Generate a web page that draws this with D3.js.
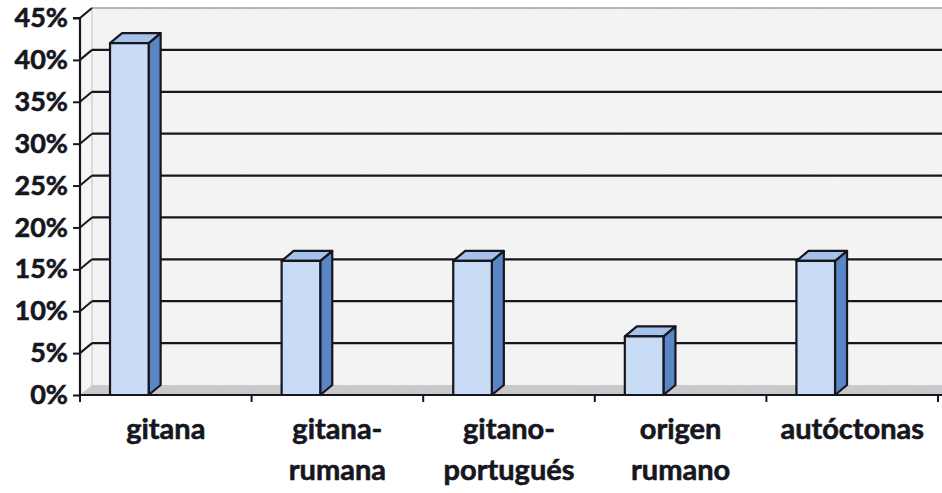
<!DOCTYPE html>
<html><head><meta charset="utf-8">
<script src="https://cdn.jsdelivr.net/npm/d3@7"></script>
<style>body{margin:0;background:#fff}svg{display:block}</style>
</head><body>
<svg id="c" width="942" height="493"></svg>
<script>
const categories = [["gitana"], ["gitana-", "rumana"], ["gitano-", "portugués"], ["origen", "rumano"], ["autóctonas"]];
const values = [42, 16, 16, 7, 16];
const yTicks = [0, 5, 10, 15, 20, 25, 30, 35, 40, 45];

(function () {
const W = 942, H = 493;
const mLeft = 80, mRight = 938, mTop = 18, mBottom = 395;
const dx = 12, dy = -10;
const svg = d3.select("#c");
const font = "Lato, 'Open Sans', sans-serif";
const ink = "#16161e";

const y = d3.scaleLinear().domain([0, 45]).range([mBottom, mTop]);
const x = d3.scaleBand().domain(d3.range(categories.length)).range([mLeft, mRight]).paddingInner(0).paddingOuter(0);

const defs = svg.append("defs");
const pat = defs.append("filter").attr("id", "noise");
pat.append("feTurbulence").attr("type", "fractalNoise").attr("baseFrequency", 0.9).attr("numOctaves", 1).attr("seed", 3);
pat.append("feColorMatrix").attr("values", "0 0 0 0 0.6  0 0 0 0 0.6  0 0 0 0 0.6  0 0 0 0.09 0");
pat.append("feComposite").attr("in2", "SourceGraphic").attr("operator", "in");

// back wall
const wallPts = [[mLeft + dx, y(45) + dy], [W, y(45) + dy], [W, mBottom + dy], [mLeft + dx, mBottom + dy]];
svg.append("polygon").attr("points", wallPts.join(" ")).attr("fill", "#f5f5f6");
svg.append("polygon").attr("points", wallPts.join(" ")).attr("fill", "#fff").attr("filter", "url(#noise)");
// side wall
const sidePts = [[mLeft, y(45)], [mLeft + dx, y(45) + dy], [mLeft + dx, mBottom + dy], [mLeft, mBottom]];
svg.append("polygon").attr("points", sidePts.join(" ")).attr("fill", "#f7f7f8");
svg.append("polygon").attr("points", sidePts.join(" ")).attr("fill", "#fff").attr("filter", "url(#noise)");
// top edge of walls
svg.append("polyline").attr("points", [[mLeft, y(45)], [mLeft + dx, y(45) + dy], [W, y(45) + dy]].join(" "))
  .attr("fill", "none").attr("stroke", "#a0a0a0").attr("stroke-width", 1.5);
svg.append("line").attr("x1", mLeft + dx).attr("x2", mLeft + dx).attr("y1", y(45) + dy).attr("y2", mBottom + dy)
  .attr("stroke", "#c0c0c0").attr("stroke-width", 1);
// floor
svg.append("polygon").attr("points", [[mLeft, mBottom], [mLeft + dx, mBottom + dy], [W, mBottom + dy], [W, mBottom]].join(" "))
  .attr("fill", "#c9c9cb");

// gridlines
const gl = svg.append("g");
yTicks.filter(t => t > 0 && t < 45).forEach(t => {
  gl.append("line").attr("x1", mLeft + dx).attr("x2", W).attr("y1", y(t) + dy).attr("y2", y(t) + dy)
    .attr("stroke", ink).attr("stroke-width", 2.2);
});
yTicks.filter(t => t > 0).forEach(t => {
  gl.append("line").attr("x1", mLeft).attr("x2", mLeft + dx).attr("y1", y(t)).attr("y2", y(t) + dy)
    .attr("stroke", ink).attr("stroke-width", 2);
});

// bars
const barOff = 0.175, barW = 0.225;
const bars = svg.append("g");
values.forEach((v, i) => {
  const x0 = x(i) + x.bandwidth() * barOff, x1 = x0 + x.bandwidth() * barW;
  const yt = y(v), yb = y(0);
  const g = bars.append("g").attr("stroke", ink).attr("stroke-width", 2.2).attr("stroke-linejoin", "round");
  g.append("polygon").attr("points", [[x1, yt], [x1 + dx, yt + dy], [x1 + dx, yb + dy], [x1, yb]].join(" ")).attr("fill", "#5a86c6");
  g.append("polygon").attr("points", [[x0, yt], [x0 + dx, yt + dy], [x1 + dx, yt + dy], [x1, yt]].join(" ")).attr("fill", "#a7c2ea");
  g.append("rect").attr("x", x0).attr("y", yt).attr("width", x1 - x0).attr("height", yb - yt).attr("fill", "#c9dcf5");
});

// y axis
const ya = svg.append("g").attr("transform", `translate(${mLeft},0)`)
  .call(d3.axisLeft(y).tickValues(yTicks).tickFormat(d => d + "%").tickSize(7).tickPadding(5));
ya.select(".domain").attr("stroke", ink).attr("stroke-width", 2.2).attr("d", `M-7,${y(45)}H0V${mBottom}`);
ya.selectAll(".tick line").attr("stroke", ink).attr("stroke-width", 2);
ya.selectAll(".tick text").attr("font-family", font).attr("font-weight", 700).attr("font-size", 27)
  .attr("fill", ink).attr("stroke", ink).attr("stroke-width", 0.6);

// x axis
svg.append("line").attr("x1", mLeft).attr("x2", W).attr("y1", mBottom).attr("y2", mBottom).attr("stroke", ink).attr("stroke-width", 2.2);
const bounds = d3.range(categories.length + 1).map(i => mLeft + i * x.bandwidth());
svg.append("g").selectAll("line").data(bounds).join("line")
  .attr("x1", d => d).attr("x2", d => d).attr("y1", mBottom).attr("y2", mBottom + 7)
  .attr("stroke", ink).attr("stroke-width", 2);

const xl = svg.append("g");
categories.forEach((lines, i) => {
  const t = xl.append("text").attr("x", x(i) + x.bandwidth() / 2).attr("y", 439)
    .attr("text-anchor", "middle").attr("font-family", font).attr("font-weight", 700).attr("font-size", 29)
    .attr("fill", ink).attr("stroke", ink).attr("stroke-width", 0.6);
  lines.forEach((s, j) => t.append("tspan").attr("x", x(i) + x.bandwidth() / 2).attr("dy", j === 0 ? 0 : 41).text(s));
});
})();
</script>
</body></html>
